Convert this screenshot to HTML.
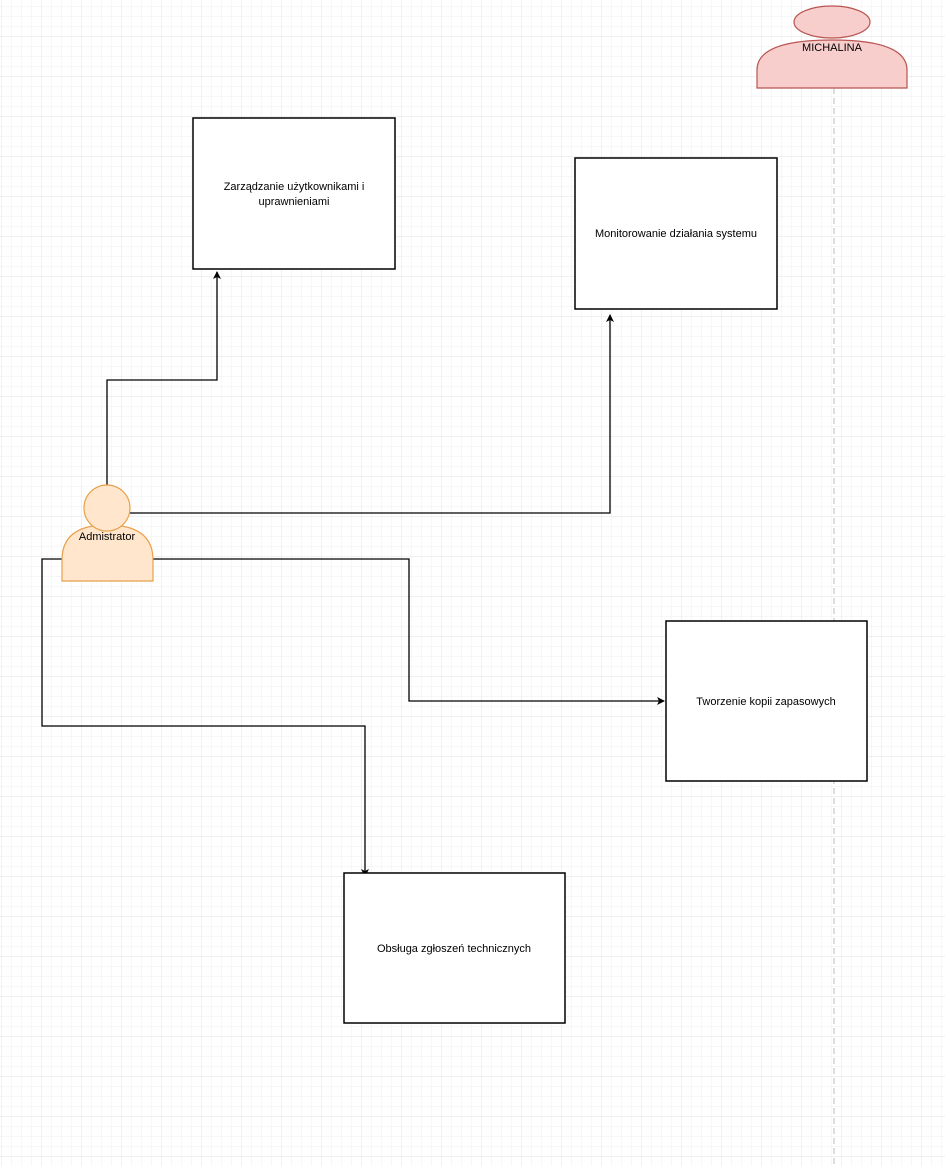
<!DOCTYPE html>
<html><head><meta charset="utf-8"><style>
body{margin:0;width:945px;height:1166px;overflow:hidden;background:#fff;font-family:"Liberation Sans",sans-serif;}
</style></head><body>
<svg width="945" height="1166" xmlns="http://www.w3.org/2000/svg">
<defs>
<pattern id="minor" width="10" height="10" patternUnits="userSpaceOnUse" x="2" y="-3">
<path d="M10 0V10M0 10H10" stroke="#efefef" stroke-width="1" fill="none"/></pattern>
<pattern id="major" width="40" height="40" patternUnits="userSpaceOnUse" x="2" y="-3">
<path d="M40 0V40M0 40H40" stroke="#e0e0e0" stroke-width="1" fill="none"/></pattern>
<marker id="a" markerWidth="8" markerHeight="8" refX="7" refY="4" orient="auto" markerUnits="userSpaceOnUse">
<path d="M0 0L8 4L0 8L2 4Z" fill="#000"/></marker>
</defs>
<rect width="945" height="1166" fill="url(#minor)"/>
<rect width="945" height="1166" fill="url(#major)"/>
<line x1="834" y1="88" x2="834" y2="1166" stroke="#bbb" stroke-dasharray="6,4"/>
<g fill="none" stroke="#000" stroke-width="1.3">
<polyline points="107,490 107,380 217,380 217,272" marker-end="url(#a)"/>
<polyline points="130,513 610,513 610,315" marker-end="url(#a)"/>
<polyline points="153,559 409,559 409,701 664,701" marker-end="url(#a)"/>
<polyline points="62,559 42,559 42,726 365,726 365,876" marker-end="url(#a)"/>
</g>
<g fill="#fff" stroke="#000" stroke-width="1.5">
<rect x="193" y="118" width="202" height="151"/>
<rect x="575" y="158" width="202" height="151"/>
<rect x="666" y="621" width="201" height="160"/>
<rect x="344" y="873" width="221" height="150"/>
</g>
<g font-size="11" text-anchor="middle" fill="#000">
<text x="294" y="190">Zarządzanie użytkownikami i</text>
<text x="294" y="205">uprawnieniami</text>
<text x="676" y="237">Monitorowanie działania systemu</text>
<text x="766" y="705">Tworzenie kopii zapasowych</text>
<text x="454" y="952">Obsługa zgłoszeń technicznych</text>
</g>
<g fill="#ffe6cc" stroke="#e8a04a" stroke-width="1.2">
<path d="M62 581V560Q62 525 107 525Q153 525 153 560V581Z"/>
<circle cx="107" cy="508" r="23"/>
</g>
<text x="107" y="540" font-size="11" text-anchor="middle">Admistrator</text>
<g fill="#f8cecc" stroke="#b85450" stroke-width="1.2">
<path d="M757 88V70Q757 40 832 40Q907 40 907 70V88Z"/>
<ellipse cx="832" cy="22" rx="38" ry="16"/>
</g>
<text x="832" y="51" font-size="11" text-anchor="middle">MICHALINA</text>
</svg>
</body></html>
